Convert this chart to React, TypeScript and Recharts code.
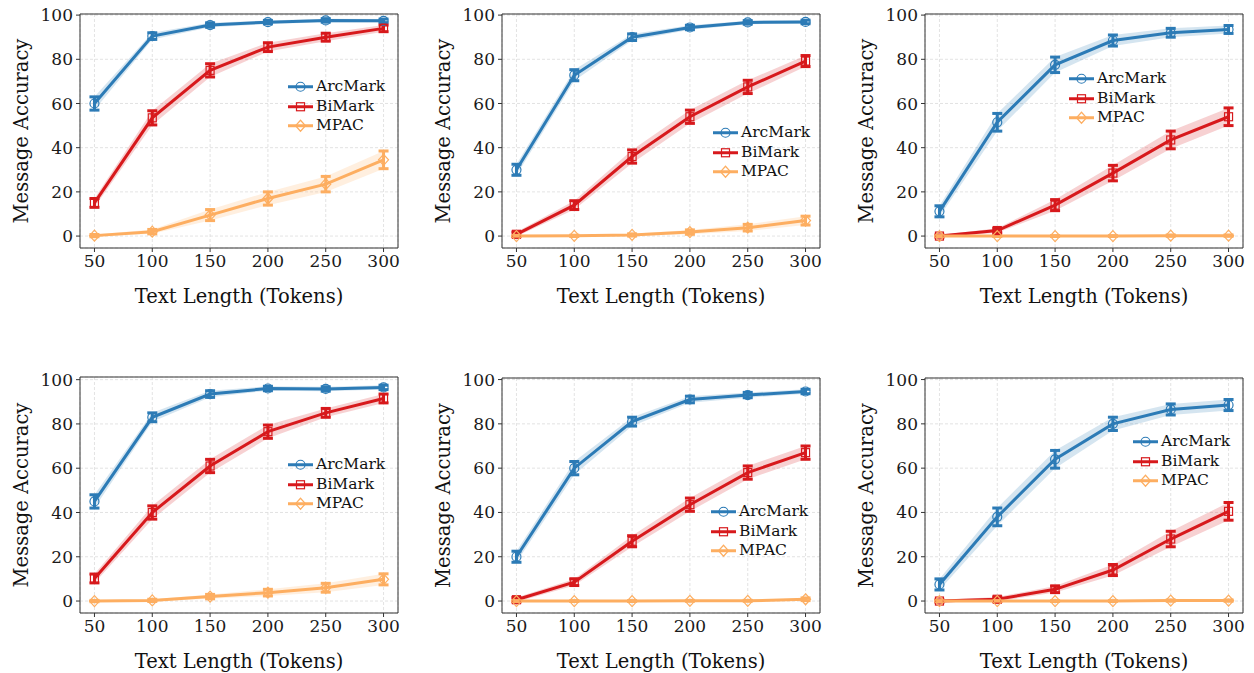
import React from "react";
import {
  ComposedChart,
  Line,
  Area,
  XAxis,
  YAxis,
  CartesianGrid,
  ErrorBar,
  ReferenceArea,
  Legend,
} from "recharts";

// x values shared by all panels
const lengths = [50, 100, 150, 200, 250, 300];
const xTicks = [50, 100, 150, 200, 250, 300];
const yTicks = [0, 20, 40, 60, 80, 100];

// panel 1 (top left)
const arc1 = [60, 90.5, 95.5, 96.8, 97.6, 97.4];
const arcErr1 = [3, 1.5, 1, 0.8, 0.8, 0.8];
const bi1 = [15, 53.5, 75, 85.5, 90, 94];
const biErr1 = [2, 3.2, 3, 2, 1.8, 1.5];
const mp1 = [0.2, 2, 9.5, 17, 23.5, 34.5];
const mpErr1 = [0.5, 1, 2.5, 3, 3.5, 4];

// panel 2 (top middle)
const arc2 = [30, 72.8, 90, 94.4, 96.7, 96.9];
const arcErr2 = [2.5, 2.5, 1.5, 1, 0.8, 0.8];
const bi2 = [0.8, 14, 36, 54, 67.5, 79.2];
const biErr2 = [1, 2, 3, 3, 3, 2.5];
const mp2 = [0, 0.1, 0.5, 1.8, 3.8, 7];
const mpErr2 = [0.3, 0.3, 0.5, 1, 1.5, 2];

// panel 3 (top right)
const arc3 = [11.2, 51.5, 77.5, 88.5, 92, 93.5];
const arcErr3 = [2.5, 4, 3.5, 2.5, 2, 1.8];
const bi3 = [0, 2.5, 14, 28.5, 43.5, 54];
const biErr3 = [0.5, 1, 2.5, 3.5, 4, 4];
const mp3 = [0, 0, 0, 0, 0.2, 0.2];
const mpErr3 = [0.2, 0.2, 0.2, 0.2, 0.3, 0.3];

// panel 4 (bottom left)
const arc4 = [45, 83, 93.5, 96, 95.8, 96.5];
const arcErr4 = [3, 2, 1.5, 1, 1, 1];
const bi4 = [10.2, 40, 61, 76.5, 85, 91.5];
const biErr4 = [2, 3, 3, 3, 2, 2];
const mp4 = [0, 0.3, 2, 3.8, 6, 9.8];
const mpErr4 = [0.3, 0.5, 1, 1.5, 2, 2.5];

// panel 5 (bottom middle)
const arc5 = [20, 60, 81, 91, 93, 94.6];
const arcErr5 = [2.5, 3, 2, 1.5, 1.2, 1];
const bi5 = [0.6, 8.5, 27, 43.5, 58, 67];
const biErr5 = [1, 1.5, 2.5, 3, 3, 3];
const mp5 = [0, 0, 0, 0.1, 0.1, 0.8];
const mpErr5 = [0.2, 0.2, 0.2, 0.2, 0.2, 0.6];

// panel 6 (bottom right)
const arc6 = [7.5, 38, 64, 80, 86.5, 88.5];
const arcErr6 = [2.5, 4, 4, 3, 2.5, 2.5];
const bi6 = [0, 0.8, 5.3, 14, 28, 40.5];
const biErr6 = [0.5, 1, 1.5, 2.5, 3.5, 4];
const mp6 = [0, 0, 0, 0, 0.2, 0.2];
const mpErr6 = [0.2, 0.2, 0.2, 0.2, 0.3, 0.3];

const FONT = "'DejaVu Serif', serif";
const BLUE = "#2c7bb6";
const RED = "#d7191c";
const ORANGE = "#fdae61";

const SERIES = [
  { key: "a", name: "ArcMark", color: BLUE, mark: "circle" },
  { key: "b", name: "BiMark", color: RED, mark: "square" },
  { key: "c", name: "MPAC", color: ORANGE, mark: "diamond" },
];

function buildRows(a, aErr, b, bErr, c, cErr) {
  return lengths.map((len, i) => ({
    len,
    a: a[i],
    aErr: aErr[i],
    b: b[i],
    bErr: bErr[i],
    c: c[i],
    cErr: cErr[i],
  }));
}

const PANELS = [
  { left: 0, top: 0, h: 320, yMax: 100.5, leg: [288, 87], rows: buildRows(arc1, arcErr1, bi1, biErr1, mp1, mpErr1) },
  { left: 422, top: 0, h: 320, yMax: 100.5, leg: [291, 133], rows: buildRows(arc2, arcErr2, bi2, biErr2, mp2, mpErr2) },
  { left: 845, top: 0, h: 320, yMax: 100.5, leg: [224, 79], rows: buildRows(arc3, arcErr3, bi3, biErr3, mp3, mpErr3) },
  { left: 0, top: 363, h: 322, yMax: 101.2, leg: [288, 102], rows: buildRows(arc4, arcErr4, bi4, biErr4, mp4, mpErr4) },
  { left: 422, top: 364, h: 321, yMax: 100.7, leg: [289, 148], rows: buildRows(arc5, arcErr5, bi5, biErr5, mp5, mpErr5) },
  { left: 845, top: 364, h: 321, yMax: 100.7, leg: [288, 78], rows: buildRows(arc6, arcErr6, bi6, biErr6, mp6, mpErr6) },
];

function Mark({ kind, cx, cy, color }) {
  if (kind === "circle") {
    return <circle cx={cx} cy={cy} r={4.5} fill="none" stroke={color} strokeWidth={1.2} />;
  }
  if (kind === "square") {
    return <rect x={cx - 4} y={cy - 4} width={8} height={8} fill="none" stroke={color} strokeWidth={1.2} />;
  }
  return (
    <polygon
      points={`${cx},${cy - 5.5} ${cx + 5},${cy} ${cx},${cy + 5.5} ${cx - 5},${cy}`}
      fill="none"
      stroke={color}
      strokeWidth={1.2}
    />
  );
}

const legendContent = () => (
  <div style={{ fontFamily: FONT, fontSize: 15.5, color: "#111" }}>
    {SERIES.map((s) => (
      <div key={s.key} style={{ display: "flex", alignItems: "center", height: 19.5 }}>
        <svg width={28} height={19.5} style={{ display: "block" }}>
          <line x1={0} x2={25} y1={9.75} y2={9.75} stroke={s.color} strokeWidth={3} />
          <Mark kind={s.mark} cx={12.5} cy={9.75} color={s.color} />
        </svg>
        <span style={{ whiteSpace: "nowrap", lineHeight: "19.5px" }}>{s.name}</span>
      </div>
    ))}
  </div>
);

const XLabel = (props: any) => {
  const vb = props.viewBox || { x: 80, y: 248, width: 318 };
  return (
    <text x={vb.x + vb.width / 2} y={vb.y + 55} textAnchor="middle" fontFamily={FONT} fontSize={19.5} fill="#111">
      Text Length (Tokens)
    </text>
  );
};

const YLabel = (props: any) => {
  const vb = props.viewBox || { x: 0, y: 14, height: 234 };
  const x = 27.5;
  const y = vb.y + vb.height / 2;
  return (
    <text x={x} y={y} textAnchor="middle" fontFamily={FONT} fontSize={19.5} fill="#111" transform={`rotate(-90, ${x}, ${y})`}>
      Message Accuracy
    </text>
  );
};

function Panel({ p }) {
  const tickStyle = { fontSize: 17, fill: "#1a1a1a", fontFamily: FONT };
  return (
    <div style={{ position: "absolute", left: p.left, top: p.top }}>
      <ComposedChart width={408} height={p.h} data={p.rows} margin={{ top: 14, right: 10, bottom: 0, left: 0 }}>
        <CartesianGrid strokeDasharray="3 2" stroke="#dcdcdc" strokeWidth={0.8} />
        <XAxis
          dataKey="len"
          type="number"
          domain={[37.5, 312.5]}
          ticks={xTicks}
          height={72}
          axisLine={false}
          tickSize={4}
          tickMargin={3}
          tickLine={{ stroke: "#333" }}
          tick={tickStyle}
          label={<XLabel />}
        />
        <YAxis
          type="number"
          domain={[-5.4, p.yMax]}
          ticks={yTicks}
          width={80}
          axisLine={false}
          allowDataOverflow
          tickSize={4}
          tickMargin={3}
          tickLine={{ stroke: "#333" }}
          tick={tickStyle}
          label={<YLabel />}
        />
        {SERIES.map((s) => (
          <Area
            key={`band-${s.key}`}
            type="linear"
            dataKey={(d) => [d[s.key] - d[s.key + "Err"], d[s.key] + d[s.key + "Err"]]}
            fill={s.color}
            fillOpacity={0.2}
            stroke="none"
            isAnimationActive={false}
            legendType="none"
          />
        ))}
        {SERIES.map((s) => (
          <Line
            key={`line-${s.key}`}
            type="linear"
            dataKey={s.key}
            name={s.name}
            stroke={s.color}
            strokeWidth={3}
            isAnimationActive={false}
            dot={(dp: any) => <Mark key={`m-${s.key}-${dp.index}`} kind={s.mark} cx={dp.cx} cy={dp.cy} color={s.color} />}
            activeDot={false}
          >
            <ErrorBar dataKey={s.key + "Err"} width={5} strokeWidth={3} stroke={s.color} direction="y" isAnimationActive={false} />
          </Line>
        ))}
        <ReferenceArea x1={37.5} x2={312.5} y1={-5.4} y2={p.yMax} fill="none" stroke="#333" strokeWidth={1} />
        <Legend
          layout="horizontal"
          verticalAlign="middle"
          align="center"
          content={legendContent}
          wrapperStyle={{ left: p.leg[0], top: p.leg[1] - 9.75, width: 110, height: 60 }}
        />
      </ComposedChart>
    </div>
  );
}

export default function App() {
  return (
    <div style={{ position: "absolute", left: 0, top: 0, width: 1254, height: 673, background: "#fff", overflow: "hidden" }}>
      {PANELS.map((p, i) => (
        <Panel key={i} p={p} />
      ))}
    </div>
  );
}
